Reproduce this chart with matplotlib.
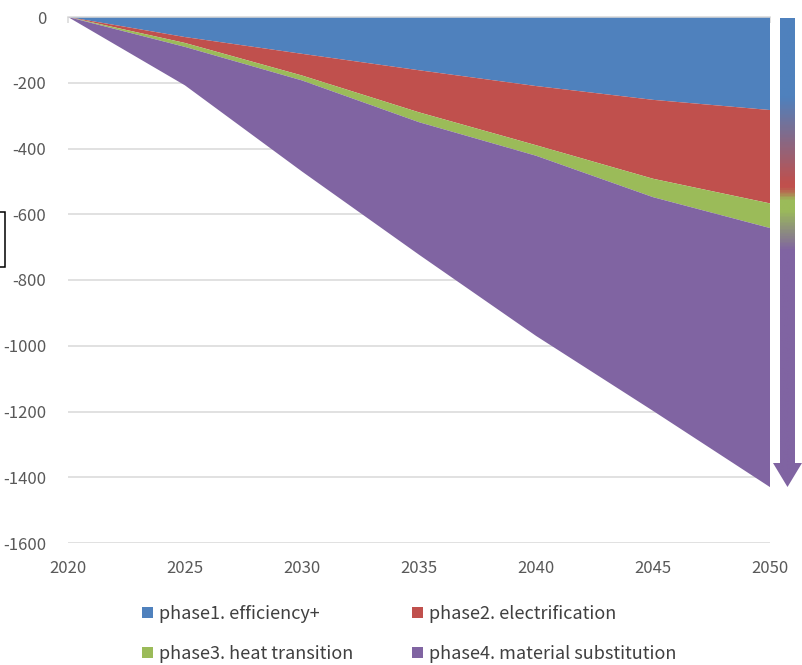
import numpy as np
import matplotlib
matplotlib.use("Agg")
import matplotlib.pyplot as plt
from matplotlib.colors import LinearSegmentedColormap
from matplotlib.patches import Patch, Polygon, Rectangle

plt.rcParams['font.family'] = ['Noto Sans CJK KR', 'DejaVu Sans']
plt.rcParams['axes.unicode_minus'] = False

years = [2020, 2025, 2030, 2035, 2040, 2045, 2050]
phase1 = [0, -61, -112, -162, -210, -252, -283]
phase2 = [0, -18, -66, -128, -180, -240, -284]
phase3 = [0, -12, -15, -30, -32, -56, -75]
phase4 = [0, -117, -277, -403, -548, -650, -788]

labels = ["phase1. efficiency+", "phase2. electrification",
          "phase3. heat transition", "phase4. material substitution"]
colors = ["#4F81BD", "#C0504D", "#9BBB59", "#8064A2"]
y_ticks = list(range(0, -1601, -200))

W, H = 802, 665
TXT = "#595959"
GRID = "#D9D9D9"


def fx(px):
    return px / W


def fy(py):
    return 1 - py / H


fig = plt.figure(figsize=(W / 100, H / 100), dpi=100)
ax = fig.add_axes([fx(68), fy(543), fx(770 - 68), (543 - 17) / H])

ax.stackplot(years, phase1, phase2, phase3, phase4, colors=colors,
             linewidth=0, zorder=2)

ax.set_xlim(2020, 2050)
ax.set_ylim(-1600, 0)
ax.set_xticks(years)
ax.set_yticks(y_ticks)
ax.grid(axis='y', color=GRID, linewidth=1.1, zorder=0)
ax.set_axisbelow(True)

for side in ['left', 'right', 'bottom']:
    ax.spines[side].set_visible(False)
ax.spines['top'].set_color(GRID)
ax.spines['top'].set_linewidth(1.1)
ax.spines['top'].set_zorder(3)

ax.tick_params(axis='x', top=True, bottom=False, labeltop=False,
               labelbottom=True, direction='in', length=4.5, width=1.1,
               color=GRID, pad=12, labelsize=12, labelcolor=TXT)
ax.tick_params(axis='y', left=False, pad=12, labelsize=12, labelcolor=TXT)

# gradient arrow on the right edge
arr = fig.add_axes([fx(773), fy(488), fx(802 - 773), (488 - 17) / H])
arr.set_xlim(773, 802)
arr.set_ylim(488, 17)
arr.axis('off')
stops = [(0.0, colors[0]), (0.168, colors[0]), (0.352, colors[1]),
         (0.362, colors[1]), (0.388, colors[2]), (0.409, colors[2]),
         (0.495, colors[3]), (1.0, colors[3])]
cmap = LinearSegmentedColormap.from_list("phases", stops)
grad = np.linspace(0, 1, 400).reshape(-1, 1)
img = arr.imshow(grad, cmap=cmap, aspect='auto', extent=(773, 802, 488, 17),
                 origin='upper')
shape = Polygon([(780, 18), (795, 18), (795, 463), (802, 463),
                 (787.5, 487), (773, 463), (780, 463)],
                closed=True, facecolor='none', edgecolor='none',
                transform=arr.transData)
arr.add_patch(shape)
img.set_clip_path(shape)

# boxed frame at the left border
fig.add_artist(Rectangle((fx(-10), fy(267)), fx(15), (267 - 212) / H,
                         transform=fig.transFigure, fill=False,
                         edgecolor='black', linewidth=1.1))

# legend entries go row by row: 1 2 / 3 4
handles = [Patch(facecolor=c, edgecolor='none') for c in colors]
order = [0, 2, 1, 3]
fig.legend([handles[i] for i in order], [labels[i] for i in order],
           ncol=2, loc='upper left',
           bbox_to_anchor=(fx(142), fy(605)), frameon=False,
           fontsize=13, labelcolor="#404040", handlelength=0.6,
           handleheight=0.6, handletextpad=0.35, columnspacing=3.25,
           labelspacing=1.2, borderpad=0, borderaxespad=0)

fig.savefig("out.png", dpi=100)
